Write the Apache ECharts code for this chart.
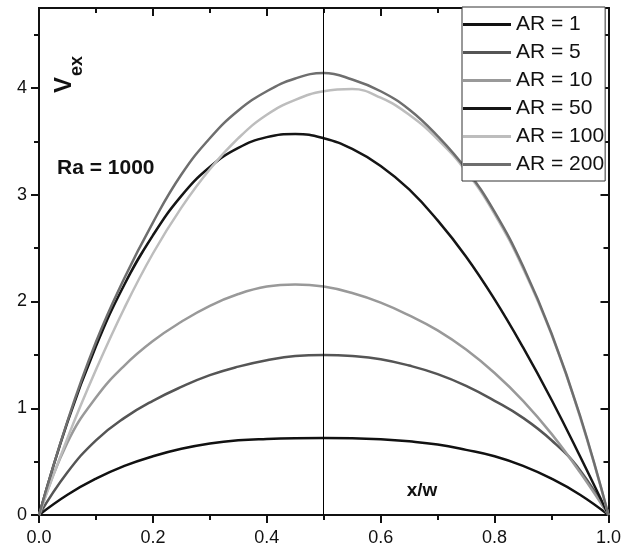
<!DOCTYPE html>
<html>
<head>
<meta charset="utf-8">
<script src="https://cdn.jsdelivr.net/npm/echarts@6/dist/echarts.min.js"></script>
<style>
  html, body { margin: 0; padding: 0; background: #fff; }
  #chart { width: 624px; height: 555px; }
</style>
</head>
<body>
<div id="chart"></div>
<script>
// x/w positions shared by every curve
const xs = [0, 0.05, 0.1, 0.15, 0.2, 0.25, 0.3, 0.35, 0.4, 0.45, 0.5,
  0.55, 0.6, 0.65, 0.7, 0.75, 0.8, 0.85, 0.9, 0.95, 1]

const names = ['AR = 1', 'AR = 5', 'AR = 10', 'AR = 50', 'AR = 100', 'AR = 200']

const ar1 = [0, 0.19, 0.34, 0.46, 0.55, 0.62, 0.67, 0.70, 0.713, 0.72, 0.722,
  0.72, 0.71, 0.69, 0.66, 0.61, 0.55, 0.46, 0.34, 0.19, 0]
const ar5 = [0, 0.40, 0.70, 0.91, 1.07, 1.20, 1.31, 1.39, 1.45, 1.49, 1.50,
  1.49, 1.46, 1.40, 1.32, 1.21, 1.07, 0.91, 0.70, 0.42, 0]
const ar10 = [0, 0.68, 1.10, 1.40, 1.63, 1.81, 1.96, 2.07, 2.14, 2.16, 2.14,
  2.08, 1.99, 1.87, 1.73, 1.55, 1.33, 1.07, 0.76, 0.40, 0]
const ar50 = [0, 0.87, 1.58, 2.16, 2.62, 2.99, 3.26, 3.44, 3.54, 3.57, 3.53,
  3.43, 3.27, 3.05, 2.76, 2.42, 2.02, 1.57, 1.08, 0.55, 0]
const ar100 = [0, 0.72, 1.36, 1.94, 2.45, 2.88, 3.24, 3.53, 3.75, 3.89, 3.97,
  3.99, 3.91, 3.75, 3.52, 3.22, 2.82, 2.31, 1.69, 0.92, 0]
const ar200 = [0, 0.88, 1.62, 2.22, 2.74, 3.19, 3.53, 3.79, 3.97, 4.09, 4.14,
  4.08, 3.97, 3.80, 3.55, 3.24, 2.84, 2.33, 1.70, 0.93, 0]

const curves = [ar1, ar5, ar10, ar50, ar100, ar200]
const colors = ['#111111', '#555555', '#999999', '#151515', '#bdbdbd', '#6e6e6e']

const yMajor = [0, 1, 2, 3, 4]
const yMinor = [0.5, 1.5, 2.5, 3.5, 4.5]

const font = 'Liberation Sans'
const ink = '#111'

const chart = echarts.init(document.getElementById('chart'))

const series = curves.map((vals, i) => ({
  name: names[i],
  type: 'line',
  smooth: 0.45,
  symbol: 'none',
  color: colors[i],
  lineStyle: { width: 2.5, color: colors[i] },
  data: xs.map((x, j) => [x, vals[j]])
}))

series[0].markLine = {
  silent: true,
  symbol: 'none',
  label: { show: false },
  lineStyle: { color: '#000', width: 1, type: 'solid' },
  data: [{ xAxis: 0.5 }]
}

function yAxisDef(pos, vals, len, labels) {
  return {
    type: 'value',
    position: pos,
    min: 0,
    max: 4.75,
    interval: 0.5,
    splitLine: { show: false },
    axisLine: { show: true, onZero: false, lineStyle: { color: ink, width: 2 } },
    axisTick: {
      show: true,
      inside: pos === 'right',
      length: len,
      customValues: vals,
      lineStyle: { color: ink, width: 2 }
    },
    axisLabel: {
      show: labels,
      customValues: yMajor,
      margin: 12,
      fontFamily: font,
      fontSize: 18,
      color: ink
    }
  }
}

function xAxisDef(pos, labels) {
  return {
    type: 'value',
    position: pos,
    min: 0,
    max: 1,
    interval: 0.2,
    splitLine: { show: false },
    axisLine: { show: true, onZero: false, lineStyle: { color: ink, width: 2 } },
    axisTick: { show: true, inside: pos === 'top', length: 8, lineStyle: { color: ink, width: 2 } },
    minorTick: { show: true, splitNumber: 2, length: 5, lineStyle: { color: ink, width: 2 } },
    minorSplitLine: { show: false },
    axisLabel: {
      show: labels,
      margin: 14,
      fontFamily: font,
      fontSize: 18,
      color: ink,
      formatter: (v) => v.toFixed(1)
    }
  }
}

chart.setOption({
  animation: false,
  backgroundColor: '#fff',
  grid: { left: 39, right: 14, top: 8, bottom: 40 },
  xAxis: [xAxisDef('bottom', true), xAxisDef('top', false)],
  yAxis: [
    yAxisDef('left', yMajor, 8, true),
    yAxisDef('left', yMinor, 5, false),
    yAxisDef('right', yMajor, 8, false),
    yAxisDef('right', yMinor, 5, false)
  ],
  legend: {
    orient: 'vertical',
    left: 462,
    top: 7,
    data: names,
    icon: 'rect',
    itemWidth: 48,
    itemHeight: 3,
    itemGap: 7,
    padding: [7, 1, 6, 1],
    backgroundColor: '#fff',
    borderColor: '#333',
    borderWidth: 1,
    borderRadius: 0,
    textStyle: { fontFamily: font, fontSize: 21, color: ink }
  },
  graphic: [
    {
      type: 'text', x: 64, y: 85, rotation: Math.PI / 2, z: 10,
      style: { text: 'V', font: 'bold 24px "Liberation Sans"', fill: ink, align: 'center', verticalAlign: 'middle' }
    },
    {
      type: 'text', x: 77, y: 66, rotation: Math.PI / 2, z: 10,
      style: { text: 'ex', font: 'bold 18px "Liberation Sans"', fill: ink, align: 'center', verticalAlign: 'middle' }
    },
    {
      type: 'text', x: 57, y: 168, z: 10,
      style: { text: 'Ra = 1000', font: 'bold 21px "Liberation Sans"', fill: ink, align: 'left', verticalAlign: 'middle' }
    },
    {
      type: 'text', x: 422, y: 491, z: 10,
      style: { text: 'x/w', font: 'bold 19px "Liberation Sans"', fill: ink, align: 'center', verticalAlign: 'middle' }
    }
  ],
  series: series
})
</script>
</body>
</html>
